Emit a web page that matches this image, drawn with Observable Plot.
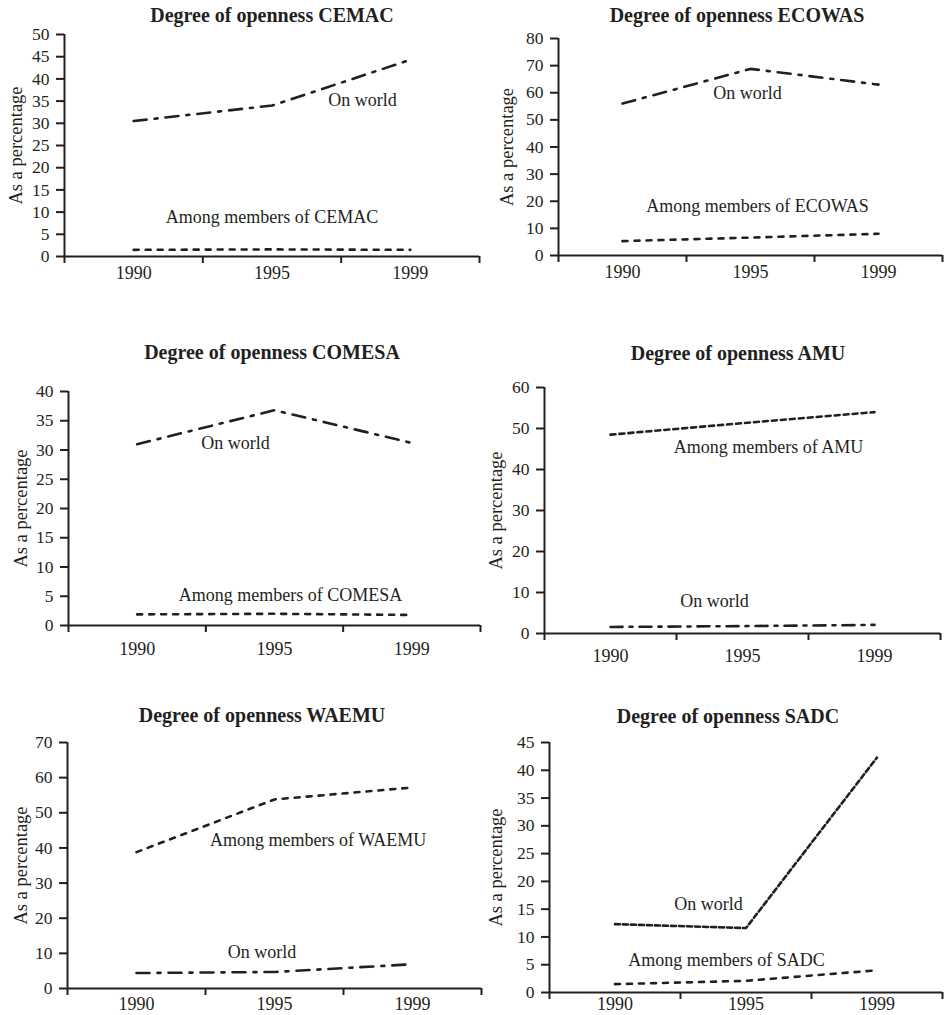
<!DOCTYPE html>
<html><head><meta charset="utf-8">
<script src="https://cdn.jsdelivr.net/npm/d3@7"></script>
<script src="https://cdn.jsdelivr.net/npm/@observablehq/plot@0.6"></script>
<style>
body{margin:0;background:#fff;}
#root{position:relative;width:945px;height:1015px;overflow:hidden;font-family:"Liberation Serif","Times New Roman",serif;color:#231f20;}
.title{position:absolute;font-weight:bold;font-size:20px;white-space:nowrap;transform:translate(-50%,-50%);line-height:1;}
.panel{position:absolute;}
</style></head><body><div id="root"></div>
<script>
// ---- data ----
const years = ["1990", "1995", "1999"];
const regions = ["CEMAC", "ECOWAS", "COMESA", "AMU", "WAEMU", "SADC"];
const yMax = [50, 80, 40, 60, 70, 45];
const yStep = [5, 10, 5, 10, 10, 5];

const cemacWorld  = [30.5, 34.0, 44.3];
const cemacAmong  = [1.5, 1.6, 1.5];
const ecowasWorld = [56.0, 68.8, 63.0];
const ecowasAmong = [5.3, 6.6, 8.0];
const comesaWorld = [31.0, 36.8, 31.2];
const comesaAmong = [1.9, 2.0, 1.8];
const amuAmong    = [48.5, 51.3, 54.0];
const amuWorld    = [1.6, 1.8, 2.1];
const waemuAmong  = [38.8, 53.8, 57.2];
const waemuWorld  = [4.4, 4.7, 6.9];
const sadcWorld   = [12.3, 11.6, 42.3];
const sadcAmong   = [1.5, 2.1, 4.0];

const worldSeries = [cemacWorld, ecowasWorld, comesaWorld, amuWorld, waemuWorld, sadcWorld];
const amongSeries = [cemacAmong, ecowasAmong, comesaAmong, amuAmong, waemuAmong, sadcAmong];

// annotation anchors (x in band units across the 3 year bands, y in percent)
const worldLabelX = [2.155, 1.477, 1.216, 1.288, 1.409, 1.214];
const worldLabelY = [35.1, 59.7, 31.1, 7.8, 10.2, 15.8];
const amongLabelX = [1.5, 1.555, 1.617, 1.697, 1.816, 1.351];
const amongLabelY = [8.8, 18.1, 5.1, 45.4, 42.1, 5.8];

// ---- layout (page pixels) ----
const layout = [
  {x0: 64,  x1: 479, yTop: 34,  yBot: 256, tx: 272, ty: 15,  lo: 56, tp: 10},
  {x0: 558, x1: 942, yTop: 38,  yBot: 255, tx: 737, ty: 15,  lo: 59, tp: 10},
  {x0: 68,  x1: 480, yTop: 391, yBot: 625, tx: 272, ty: 352, lo: 55, tp: 17},
  {x0: 544, x1: 940, yTop: 387, yBot: 633, tx: 738, ty: 353, lo: 56, tp: 16},
  {x0: 67,  x1: 481, yTop: 742, yBot: 988, tx: 262, ty: 715, lo: 54, tp: 9},
  {x0: 549, x1: 942, yTop: 742, yBot: 992, tx: 728, ty: 716, lo: 61, tp: 5}
];
const worldDash = ["13,8,3,8", "13,8,3,8", "13,8,3,8", "12,7,3,7", "13,8,3,8", "5,3"];
const amongDash = ["5,7", "5,7", "5,7", "5,4", "5,7", "5,7"];

const ink = "#231f20";
const root = document.getElementById("root");

regions.forEach((reg, i) => {
  const g = layout[i];
  const mL = 64, mR = 6, mT = 12, mB = 36;
  const w = g.x1 - g.x0, h = g.yBot - g.yTop;
  const rows = (vals) => years.map((yr, j) => ({year: yr, pos: j + 0.5, value: vals[j]}));
  const labels = [
    {text: "On world", x: worldLabelX[i], y: worldLabelY[i]},
    {text: "Among members of " + reg, x: amongLabelX[i], y: amongLabelY[i]}
  ];
  const ticks = d3.range(0, yMax[i] + 1e-9, yStep[i]);
  const plot = Plot.plot({
    width: w + mL + mR,
    height: h + mT + mB,
    marginLeft: mL, marginRight: mR, marginTop: mT, marginBottom: mB,
    style: {fontFamily: '"Liberation Serif","Times New Roman",serif', fontSize: "18px", color: ink, background: "transparent", overflow: "visible"},
    x: {domain: [0, 3]},
    y: {domain: [0, yMax[i]]},
    marks: [
      Plot.axisY({ticks, tickSize: 8, tickPadding: 7, strokeWidth: 2, fontSize: 17.5, fill: ink, stroke: ink, label: null}),
      Plot.axisY({ticks: [], tickSize: 0, fontSize: 18.5, fill: ink,
        label: "As a percentage", labelAnchor: "center", labelOffset: g.lo, labelArrow: "none"}),
      Plot.axisX({ticks: [0, 1, 2, 3], tickSize: 7, strokeWidth: 2, stroke: ink, tickFormat: () => "", label: null}),
      Plot.axisX({ticks: years.map((_, j) => j + 0.5), tickSize: 0, tickPadding: g.tp, fontSize: 18, fill: ink,
        tickFormat: (d) => years[Math.floor(d)], label: null}),
      Plot.ruleX([0], {stroke: ink, strokeWidth: 2}),
      Plot.ruleY([0], {stroke: ink, strokeWidth: 2}),
      Plot.line(rows(worldSeries[i]), {x: "pos", y: "value", stroke: ink, strokeWidth: 2.6, strokeDasharray: worldDash[i]}),
      Plot.line(rows(amongSeries[i]), {x: "pos", y: "value", stroke: ink, strokeWidth: 2.6, strokeDasharray: amongDash[i]}),
      Plot.text(labels, {x: "x", y: "y", text: "text", fontSize: 18, fill: ink})
    ]
  });
  plot.classList.add("panel");
  plot.style.left = (g.x0 - mL) + "px";
  plot.style.top = (g.yTop - mT) + "px";
  root.appendChild(plot);
  const t = document.createElement("div");
  t.className = "title";
  t.textContent = "Degree of openness " + reg;
  t.style.left = g.tx + "px";
  t.style.top = g.ty + "px";
  root.appendChild(t);
});
</script>
</body></html>
